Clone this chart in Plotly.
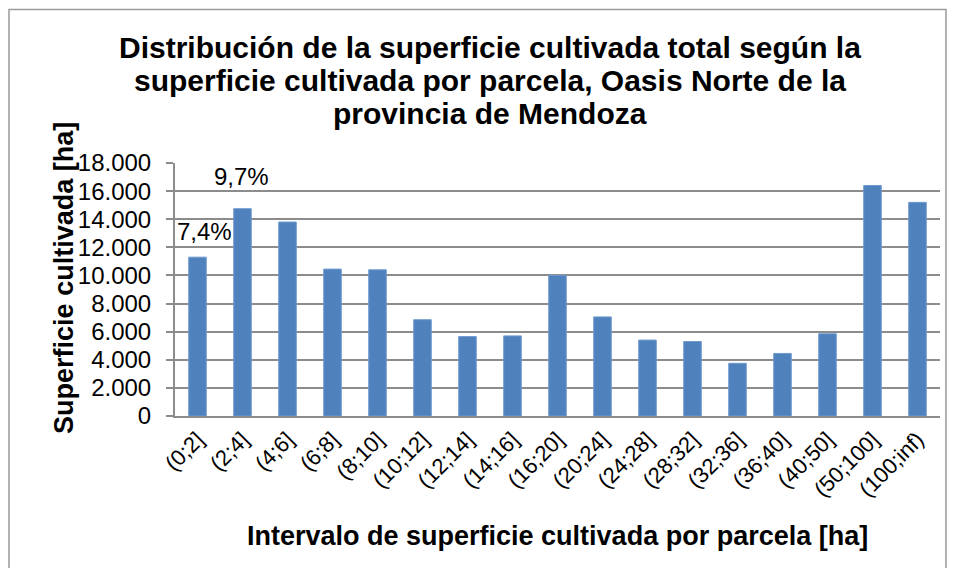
import plotly.graph_objects as go

# intervalos de superficie por parcela [ha]
intervalos = ["(0;2]", "(2;4]", "(4;6]", "(6;8]", "(8;10]", "(10;12]", "(12;14]",
              "(14;16]", "(16;20]", "(20;24]", "(24;28]", "(28;32]", "(32;36]",
              "(36;40]", "(40;50]", "(50;100]", "(100;inf)"]
# superficie cultivada total [ha]
superficie = [11300, 14750, 13800, 10450, 10400, 6850, 5650, 5700, 10000,
              7050, 5400, 5300, 3750, 4450, 5850, 16400, 15200]
y_ticks = [0, 2000, 4000, 6000, 8000, 10000, 12000, 14000, 16000, 18000]
y_ticktext = ["0", "2.000", "4.000", "6.000", "8.000", "10.000", "12.000",
              "14.000", "16.000", "18.000"]
titulo = ["Distribución de la superficie cultivada total según la",
          "superficie cultivada por parcela, Oasis Norte de la",
          "provincia de Mendoza"]

total = sum(superficie)
pct = [v / total * 100 for v in superficie]

FONT = "Liberation Sans, Arial, sans-serif"
GRID = "#8c8c8c"

fig = go.Figure()
fig.add_trace(go.Bar(
    x=intervalos, y=superficie,
    marker=dict(color="#4F81BD", line=dict(color="#6f9ad0", width=1)),
    width=0.39,
))

# etiquetas de porcentaje de las dos primeras barras
lbl_pos = [(0, 13150, 7), (1, 17050, -1)]
for i, ypos, dx in lbl_pos:
    fig.add_annotation(x=intervalos[i], y=ypos, xshift=dx,
                       text=("%.1f%%" % pct[i]).replace(".", ","),
                       showarrow=False, font=dict(size=24, color="black", family=FONT))

# titulo, una linea por anotacion para respetar el interlineado
for linea, yy in zip(titulo, [1.457, 1.3265, 1.196]):
    fig.add_annotation(xref="paper", yref="paper", x=0.412, y=yy,
                       text="<b>%s</b>" % linea, showarrow=False,
                       xanchor="center", yanchor="middle",
                       font=dict(size=30, color="black", family=FONT))

fig.add_annotation(xref="paper", yref="paper", x=0.5, y=-0.474,
                   text="<b>Intervalo de superficie cultivada por parcela [ha]</b>",
                   showarrow=False, yanchor="middle",
                   font=dict(size=27, color="black", family=FONT))
fig.add_annotation(xref="paper", yref="paper", x=-0.146, y=0.547,
                   text="<b>Superficie cultivada [ha]</b>", textangle=-90,
                   showarrow=False, xanchor="center", yanchor="middle",
                   font=dict(size=27, color="black", family=FONT))

# marco del grafico
fig.add_shape(type="rect", xref="paper", yref="paper",
              x0=-0.217, x1=1.0078, y0=-0.7, y1=1.607,
              line=dict(color="#9a9a9a", width=1.5), layer="below")

# la pagina tiene 8px de margen en el body: la figura se achica para caber
fig.update_layout(
    width=939, height=560,
    margin=dict(l=167, r=7, t=155, b=152),
    paper_bgcolor="white", plot_bgcolor="white",
    showlegend=False,
    font=dict(family=FONT, color="black"),
    xaxis=dict(
        tickangle=-45, tickfont=dict(size=22, color="black"),
        showline=True, linecolor=GRID, linewidth=2,
        showgrid=False, ticks="", range=[-0.5, 16.5],
    ),
    yaxis=dict(
        range=[0, 18000], tickvals=y_ticks, ticktext=y_ticktext,
        tickfont=dict(size=24, color="black"),
        showgrid=True, gridcolor=GRID, gridwidth=2,
        showline=True, linecolor=GRID, linewidth=2,
        ticks="outside", ticklen=7, tickcolor=GRID, tickwidth=2,
        ticklabelstandoff=10, zeroline=False,
    ),
)

fig.write_html("out.html")
